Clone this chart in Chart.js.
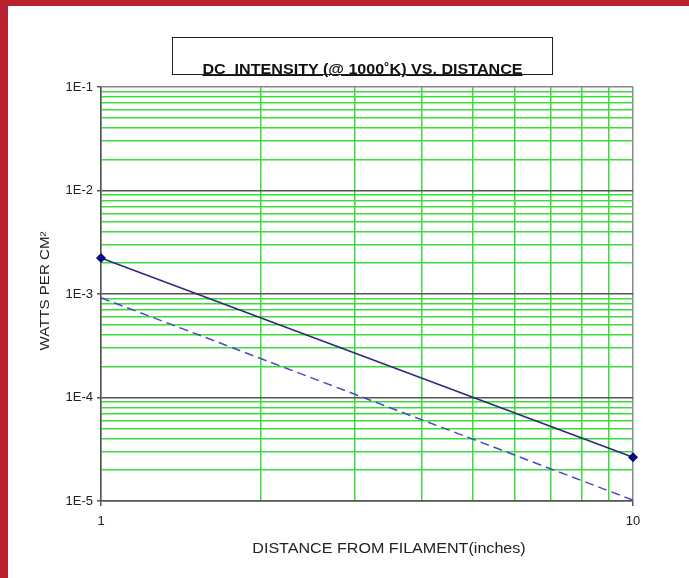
<!DOCTYPE html>
<html>
<head>
<meta charset="utf-8">
<script src="https://cdn.jsdelivr.net/npm/chart.js@4.4.1/dist/chart.umd.min.js"></script>
<style>
  body { margin: 0; background: #fff; }
  #wrap { position: relative; width: 689px; height: 578px; overflow: hidden; background: #fff; }
  #c { position: absolute; left: 0; top: 0; }
  .red { position: absolute; background: #b9212f; }
  #titleBox {
    position: absolute; left: 172px; top: 37px; width: 379px; height: 36px;
    border: 1px solid #222;
  }
  #titleBox span {
    position: absolute; left: 0; right: 0; bottom: -3px; text-align: center;
    font-family: "Liberation Sans", Arial, sans-serif; font-weight: bold; font-size: 14px;
    color: #111; text-decoration: underline; line-height: 16px;
    transform: scaleX(1.15);
  }
  .axisTitle {
    position: absolute; text-align: center; white-space: nowrap;
    font-family: "Liberation Sans", Arial, sans-serif; color: #222;
  }
  #xTitle { left: 239px; width: 300px; top: 540px; font-size: 14px; transform: scaleX(1.15); }
  #yTitle {
    left: -105px; top: 283px; width: 300px; font-size: 13px; line-height: 16px;
    transform: rotate(-90deg) scaleX(1.16);
  }
</style>
</head>
<body>
<div id="wrap">
  <canvas id="c" width="689" height="578"></canvas>
  <div class="red" style="left:0;top:0;width:689px;height:6px"></div>
  <div class="red" style="left:0;top:0;width:8px;height:578px"></div>
  <div id="titleBox"><span>DC&nbsp; INTENSITY (@ 1000˚K) VS. DISTANCE</span></div>
  <div class="axisTitle" id="xTitle">DISTANCE FROM FILAMENT(inches)</div>
  <div class="axisTitle" id="yTitle">WATTS PER CM²</div>
</div>
<script>
// distances (inches)
const distances = [1, 10];
// intensity, W/cm^2
const solidSeries = [2.23e-3, 2.65e-5];
const dashedSeries = [9.2e-4, 1.02e-5];

// grid / tick values
const xGridValues = [1, 2, 3, 4, 5, 6, 7, 8, 9, 10];
const xTickLabels = ['1', '10'];
const yDecades = [1e-5, 1e-4, 1e-3, 1e-2, 1e-1];
const yTickLabels = ['1E-5', '1E-4', '1E-3', '1E-2', '1E-1'];
const yGridValues = [];
yDecades.slice(0, -1).forEach(d => {
    for (let k = 1; k <= 9; k++) yGridValues.push(d * k);
});
yGridValues.push(1e-1);

const toPoints = vals => distances.map((x, i) => ({ x: x, y: vals[i] }));
const isPow10 = v => Math.abs(Math.log10(v) - Math.round(Math.log10(v))) < 1e-6;

const GREEN = '#3ddc3d';
const GRAY = '#555555';
const FONT = 'Liberation Sans, Arial, sans-serif';

new Chart(document.getElementById('c').getContext('2d'), {
    type: 'scatter',
    data: {
        datasets: [{
            data: toPoints(solidSeries),
            showLine: true,
            borderColor: '#2a2a78',
            borderWidth: 1.5,
            pointStyle: 'rectRot',
            pointRadius: 4,
            pointBackgroundColor: '#0a0a80',
            pointBorderColor: '#0a0a80',
            clip: false
        }, {
            data: toPoints(dashedSeries),
            showLine: true,
            borderColor: '#4848c8',
            borderWidth: 1.5,
            borderDash: [9, 5],
            pointRadius: 0,
            clip: false
        }]
    },
    options: {
        responsive: false,
        animation: false,
        layout: {
            padding: { left: 0, top: 87, right: 56, bottom: 0 }
        },
        plugins: {
            legend: { display: false },
            tooltip: { enabled: false }
        },
        scales: {
            x: {
                type: 'logarithmic',
                min: 1,
                max: 10,
                afterBuildTicks: scale => {
                    scale.ticks = xGridValues.map(v => ({ value: v }));
                },
                afterFit: scale => {
                    scale.height = 77;
                    scale.paddingLeft = 0;
                    scale.paddingRight = 0;
                },
                ticks: {
                    autoSkip: false,
                    maxRotation: 0,
                    padding: 8,
                    color: '#222',
                    font: { family: FONT, size: 13 },
                    callback: v => {
                        const i = distances.indexOf(v);
                        return i >= 0 ? xTickLabels[i] : '';
                    }
                },
                grid: {
                    tickLength: 5,
                    lineWidth: 1.5,
                    color: ctx => (ctx.tick && isPow10(ctx.tick.value)) ? '#888' : GREEN,
                    tickColor: ctx => (ctx.tick && isPow10(ctx.tick.value)) ? GRAY : 'rgba(0,0,0,0)'
                },
                border: { color: GRAY, width: 1.5 }
            },
            y: {
                type: 'logarithmic',
                min: 1e-5,
                max: 1e-1,
                afterBuildTicks: scale => {
                    scale.ticks = yGridValues.map(v => ({ value: v }));
                },
                afterFit: scale => {
                    scale.width = 101;
                    scale.paddingTop = 0;
                    scale.paddingBottom = 0;
                },
                ticks: {
                    autoSkip: false,
                    padding: 4,
                    color: '#222',
                    font: { family: FONT, size: 13 },
                    callback: v => {
                        const i = yDecades.findIndex(d => Math.abs(d - v) / d < 1e-6);
                        return i >= 0 ? yTickLabels[i] : '';
                    }
                },
                grid: {
                    tickLength: 4,
                    lineWidth: 1.5,
                    color: ctx => {
                        if (!ctx.tick) return GREEN;
                        const v = ctx.tick.value;
                        if (Math.abs(v - 1e-1) < 1e-9) return '#888';
                        return isPow10(v) ? GRAY : GREEN;
                    },
                    tickColor: ctx => (ctx.tick && isPow10(ctx.tick.value)) ? GRAY : 'rgba(0,0,0,0)'
                },
                border: { color: GRAY, width: 1.5 }
            }
        }
    }
});
</script>
</body>
</html>
